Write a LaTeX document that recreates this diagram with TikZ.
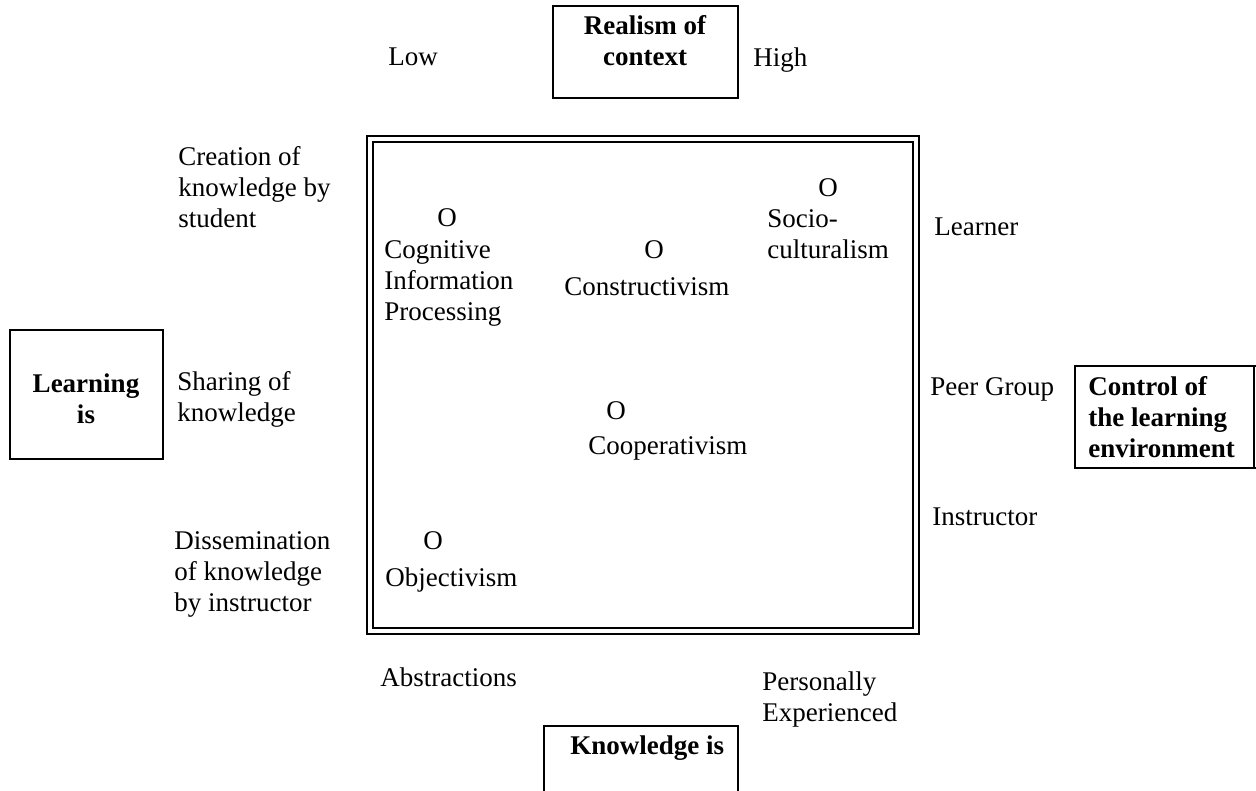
\documentclass[tikz,border=0pt]{standalone}
\usepackage{fontspec}
\setmainfont{Liberation Serif}
\usetikzlibrary{positioning}

\tikzset{
	lbl/.style={anchor=north west, inner sep=0pt, align=left, font=\fontsize{13.5}{15.5}\selectfont},
	dot/.style={anchor=north, inner sep=0pt, font=\fontsize{13.5}{15.5}\selectfont},
	title/.style={anchor=north, inner sep=0pt, align=center, font=\fontsize{13.5}{15.5}\selectfont\bfseries},
	titleleft/.style={anchor=north west, inner sep=0pt, align=left, font=\fontsize{13.5}{15.5}\selectfont\bfseries},
	frame/.style={draw, line width=1pt}
}

\begin{document}
\begin{tikzpicture}[x=0.5pt, y=-0.5pt]
	\useasboundingbox (0,0) rectangle (1256,791);

	% main square with its double rule
	\begin{scope}
		\draw[line width=1.3pt] (367,136) rectangle (919,634);
		\draw[line width=0.8pt] (373,142) rectangle (913,628);
	\end{scope}

	% boxes for the four axes
	\begin{scope}
		\draw[frame] (553,6) rectangle (738,98);
		\node[title] (realism) at (645,15) {Realism of\\context};
		\draw[frame] (10,330) rectangle (163,459);
		\node[title] (learning) at (86,373) {Learning\\is};
		\draw[frame] (1256,366) -- (1075,366) -- (1075,468) -- (1256,468);
		\draw[frame] (1254,366) -- (1254,468);
		\node[titleleft] (control) at (1088,376) {Control of\\the learning\\environment};
		\draw[frame] (544,800) -- (544,726) -- (738,726) -- (738,800);
		\node[titleleft] (knowledge) at (570,735) {Knowledge is};
	\end{scope}

	% top and bottom ends
	\node[lbl] (low) at (388,47) {Low};
	\node[lbl] (high) at (753,47) {High};
	\node[lbl] (abstract) at (380,667) {Abstractions};
	\node[lbl] (personal) at (762,671) {Personally\\Experienced};

	% left ends
	\node[lbl] (creation) at (178,146) {Creation of\\knowledge by\\student};
	\node[lbl] (sharing) at (177,371) {Sharing of\\knowledge};
	\node[lbl] (dissem) at (174,531) {Dissemination\\of knowledge\\by instructor};

	% right ends
	\node[lbl] (learner) at (934,217) {Learner};
	\node[lbl] (peer) at (930,377) {Peer Group};
	\node[lbl] (instructor) at (932,507) {Instructor};

	% the five positions
	\node[dot] (cipO) at (447,208) {O};
	\node[lbl] (cip) at (384,240) {Cognitive\\Information\\Processing};
	\node[dot] (conO) at (654,240) {O};
	\node[lbl] (con) at (564,277) {Constructivism};
	\node[dot] (socO) at (828,178) {O};
	\node[lbl] (soc) at (767,209) {Socio-\\culturalism};
	\node[dot] (coopO) at (616,401) {O};
	\node[lbl] (coop) at (588,436) {Cooperativism};
	\node[dot] (objO) at (433,531) {O};
	\node[lbl] (obj) at (385,567) {Objectivism};
\end{tikzpicture}
\end{document}
